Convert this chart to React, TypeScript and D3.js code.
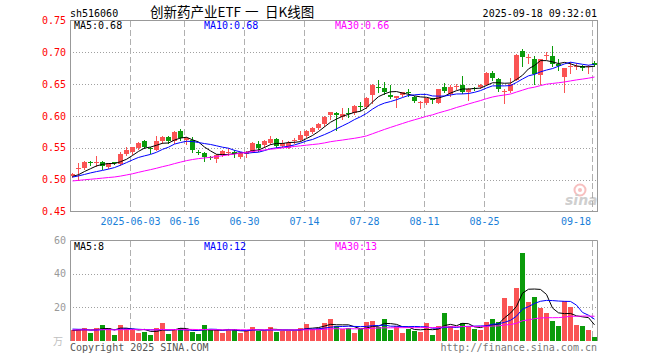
import React from "react";
import * as d3 from "d3";

// ---- data ----
const openP = [0.505,0.518,0.519,0.528,0.526,0.527,0.520,0.527,0.524,0.540,
0.543,0.550,0.561,0.550,0.547,0.560,0.567,0.561,0.577,0.563,
0.562,0.544,0.542,0.536,0.532,0.538,0.543,0.544,0.535,0.540,
0.544,0.556,0.555,0.557,0.564,0.553,0.550,0.561,0.563,0.569,
0.575,0.581,0.587,0.602,0.605,0.598,0.604,0.605,0.615,0.614,
0.633,0.646,0.644,0.633,0.629,0.633,0.637,0.630,0.621,0.620,
0.626,0.621,0.645,0.634,0.646,0.649,0.638,0.644,0.645,0.649,
0.668,0.658,0.638,0.639,0.657,0.702,0.691,0.689,0.665,0.695,
0.695,0.682,0.662,0.677,0.678,0.679,0.677,0.684];

const highP = [0.510,0.526,0.529,0.529,0.537,0.529,0.526,0.528,0.543,0.551,
0.552,0.559,0.562,0.552,0.569,0.569,0.568,0.576,0.579,0.567,
0.567,0.546,0.543,0.537,0.540,0.546,0.549,0.546,0.543,0.545,
0.559,0.561,0.562,0.569,0.566,0.563,0.560,0.565,0.576,0.578,
0.582,0.589,0.600,0.607,0.606,0.612,0.613,0.617,0.622,0.630,
0.651,0.657,0.653,0.649,0.632,0.638,0.643,0.632,0.623,0.629,
0.628,0.643,0.652,0.648,0.650,0.663,0.644,0.646,0.650,0.669,
0.670,0.659,0.642,0.660,0.697,0.706,0.697,0.694,0.690,0.701,
0.710,0.690,0.676,0.685,0.683,0.680,0.680,0.686];

const lowP = [0.504,0.499,0.516,0.523,0.522,0.516,0.518,0.524,0.523,0.538,
0.541,0.548,0.550,0.542,0.546,0.557,0.558,0.558,0.563,0.556,
0.543,0.540,0.530,0.533,0.527,0.537,0.539,0.536,0.534,0.535,
0.543,0.545,0.552,0.556,0.551,0.551,0.549,0.558,0.561,0.567,
0.573,0.579,0.585,0.596,0.578,0.596,0.598,0.603,0.610,0.612,
0.621,0.637,0.634,0.628,0.614,0.631,0.632,0.622,0.613,0.619,
0.620,0.620,0.637,0.632,0.643,0.636,0.625,0.641,0.644,0.648,
0.657,0.640,0.620,0.638,0.656,0.678,0.684,0.650,0.650,0.690,
0.678,0.672,0.637,0.667,0.674,0.672,0.668,0.679];

const closeP = [0.509,0.519,0.527,0.526,0.527,0.521,0.526,0.526,0.541,0.546,
0.551,0.558,0.552,0.549,0.560,0.567,0.560,0.575,0.565,0.566,
0.547,0.543,0.535,0.535,0.539,0.545,0.544,0.541,0.542,0.543,
0.558,0.549,0.561,0.564,0.553,0.557,0.557,0.562,0.570,0.577,
0.581,0.588,0.599,0.606,0.602,0.603,0.603,0.615,0.614,0.629,
0.649,0.645,0.637,0.630,0.631,0.637,0.636,0.624,0.622,0.628,
0.625,0.642,0.639,0.646,0.647,0.638,0.642,0.643,0.649,0.668,
0.659,0.642,0.639,0.651,0.696,0.692,0.692,0.666,0.689,0.696,
0.682,0.679,0.675,0.678,0.679,0.676,0.678,0.680];

// volume (万手)
const volume = [6.4,6.8,7.4,4.4,7.4,9.4,7.4,3.4,9.4,7.4,
6.8,4.4,5.4,3.4,7.4,10.8,4.0,6.6,7.8,6.8,
5.0,4.0,9.2,6.4,6.4,4.8,6.4,6.8,4.8,6.0,
8.0,6.0,6.0,8.0,5.4,6.0,6.0,6.0,7.8,10.0,
7.2,7.8,10.4,13.0,8.8,7.0,7.8,4.6,6.8,11.2,
12.0,8.2,13.0,6.4,8.8,4.8,7.2,5.8,5.4,10.4,
3.6,9.0,16.6,8.8,6.4,10.6,8.0,7.2,6.6,11.4,
13.0,11.4,25.6,20.8,31.6,52.6,23.2,26.2,19.6,16.6,
11.8,8.8,23.8,20.2,9.4,8.8,6.4,2.2];

// sessions before the visible window (only feed the moving averages)
const priorCloses = [0.492,0.498,0.503,0.500,0.494,0.497,0.501,0.499,0.493,0.495,
0.490,0.486,0.489,0.494,0.492,0.497,0.495,0.493,0.497,0.495,
0.500,0.504,0.502,0.506,0.503,0.505,0.502,0.504,0.505];
const priorVolumes = [6.0,7.2,5.4,6.8,5.0,6.2,7.6,5.8,6.4,5.6,
6.6,5.2,7.0,6.0,5.8,6.4,4.8,5.6,6.2,5.4,
8.0,7.4,9.2,7.0,6.8,5.8,6.2,5.0,6.6];

const tickIndex = [10, 19, 29, 39, 49, 59, 69, 87];
const tickLabels = ["2025-06-03", "06-16", "06-30", "07-14", "07-28", "08-11", "08-25", "09-18"];
const priceTicks = [0.45, 0.5, 0.55, 0.6, 0.65, 0.7, 0.75];
const volTicks = [20, 40, 60];
const priceLegend = ["MA5:0.68", "MA10:0.68", "MA30:0.66"];
const volLegend = ["MA5:8", "MA10:12", "MA30:13"];
const titleParts = ["创新药产业ETF", "一", "日K线图"];
const maPeriods = [5, 10, 30];

const MONO = "'DejaVu Sans Mono', 'Liberation Mono', monospace";
const CJK = "'Noto Sans CJK SC', 'Noto Sans', sans-serif";
const RED = "#fa5454";
const GREEN = "#0b9b0b";
const MA_COLORS = ["#000000", "#0000ff", "#ff00ff"];

function movingAvg(prior: number[], vals: number[], n: number): number[] {
  const all = prior.concat(vals);
  const off = prior.length;
  return vals.map((_, i) => {
    const end = i + off;
    return d3.mean(all.slice(end - n + 1, end + 1)) as number;
  });
}

export default function App() {
  const n = closeP.length;
  const L = 70, R = 597;
  const xs = d3.scaleLinear().domain([0, n - 1]).range([L, 592]);
  const ys = d3.scaleLinear().domain([0.45, 0.75]).range([211.5, 20.5]);
  const yv = d3.scaleLinear().domain([0, 60]).range([340.5, 240.5]);
  const idx = d3.range(n);

  const priceMA = maPeriods.map((p) => movingAvg(priorCloses, closeP, p));
  const volMA = maPeriods.map((p) => movingAvg(priorVolumes, volume, p));

  const pLine = (arr: number[]) =>
    d3.line<number>().x((i) => xs(i) + 2.5).y((i) => ys(arr[i]))(idx) as string;
  const vLine = (arr: number[]) =>
    d3.line<number>().x((i) => xs(i) + 2.5).y((i) => yv(arr[i]))(idx) as string;

  const up = (i: number) => closeP[i] >= openP[i];

  return (
    <svg
      width={660}
      height={360}
      style={{ position: "absolute", left: 0, top: 0, background: "#fff" }}
      xmlns="http://www.w3.org/2000/svg"
    >
      <rect x={0} y={0} width={660} height={360} fill="#fff" />
      {/* header */}
      <text x={70} y={16.5} fontFamily={MONO} fontSize={10} fill="#000">sh516060</text>
      {titleParts.map((s, k) => (
        <text key={"t" + k} x={[150, 245, 265][k]} y={16.5} fontFamily={CJK} fontSize={13.5} fill="#000">{s}</text>
      ))}
      <text x={597} y={16.5} fontFamily={MONO} fontSize={10} fill="#000" textAnchor="end">2025-09-18 09:32:01</text>

      {/* horizontal grid, price */}
      {priceTicks.slice(1, -1).map((t) => (
        <line key={"pg" + t} x1={L} x2={R} y1={Math.round(ys(t)) + 0.5} y2={Math.round(ys(t)) + 0.5}
          stroke="#a0a0a0" strokeDasharray="1,2" />
      ))}
      {/* horizontal grid, volume */}
      {volTicks.slice(0, -1).map((t) => (
        <line key={"vg" + t} x1={L} x2={R} y1={Math.round(yv(t)) + 0.5} y2={Math.round(yv(t)) + 0.5}
          stroke="#a0a0a0" strokeDasharray="1,2" />
      ))}
      {/* vertical dashed grid */}
      {tickIndex.map((ti) => (
        <g key={"vx" + ti}>
          <line x1={xs(ti) + 0.5} x2={xs(ti) + 0.5} y1={21} y2={211} stroke="#b0b0b0" strokeDasharray="6,3" />
          <line x1={xs(ti) + 0.5} x2={xs(ti) + 0.5} y1={241} y2={340} stroke="#b0b0b0" strokeDasharray="6,3" />
        </g>
      ))}

      {/* price axis labels */}
      {priceTicks.map((t) => (
        <text key={"pl" + t} x={66} y={ys(t)} dy="0.35em" textAnchor="end" fontFamily={MONO} fontSize={10} fill="#ff0000">
          {d3.format(".2f")(t)}
        </text>
      ))}
      {/* volume axis labels */}
      {volTicks.map((t) => (
        <text key={"vl" + t} x={66} y={yv(t)} dy="0.35em" textAnchor="end" fontFamily={MONO} fontSize={10} fill="#999">
          {t}
        </text>
      ))}
      <text x={63} y={345} textAnchor="end" fontFamily={CJK} fontSize={10} fill="#c0c0c0">万</text>

      {/* date labels */}
      {tickIndex.map((ti, k) => (
        <text key={"dl" + ti} x={k === tickIndex.length - 1 ? xs(ti) - 1 : xs(ti) + 0.5} y={225}
          textAnchor={k === tickIndex.length - 1 ? "end" : "middle"} fontFamily={MONO} fontSize={10} fill="#1a80d9">
          {tickLabels[k]}
        </text>
      ))}

      {/* watermark */}
      <g opacity={0.5}>
        <circle cx={580} cy={190} r={5.5} fill="none" stroke="#f08080" strokeWidth={2} />
        <circle cx={580} cy={190} r={2} fill="#f08080" />
        <text x={565} y={205} fontFamily="'DejaVu Sans', sans-serif" fontSize={14} fontWeight="bold" fontStyle="italic" fill="#a0a0a0">sina</text>
      </g>

      {/* candles */}
      {idx.map((i) => {
        const c = up(i) ? RED : GREEN;
        const x = xs(i);
        const top = Math.round(ys(Math.max(openP[i], closeP[i])));
        const bot = Math.round(ys(Math.min(openP[i], closeP[i])));
        const h = Math.max(1, bot - top);
        return (
          <g key={"c" + i}>
            <line x1={x + 2.5} x2={x + 2.5} y1={Math.round(ys(highP[i]))} y2={Math.round(ys(lowP[i])) + 1} stroke={c} strokeWidth={1} />
            <rect x={x} y={top} width={5} height={h} fill={c} />
          </g>
        );
      })}
      {/* price MAs */}
      {priceMA.map((arr, k) => (
        <path key={"pm" + k} d={pLine(arr)} fill="none" stroke={MA_COLORS[k]} strokeWidth={1} />
      ))}

      {/* volume bars */}
      {idx.map((i) => {
        const top = Math.round(yv(volume[i]));
        return (
          <rect key={"v" + i} x={xs(i)} y={top} width={5} height={341 - top} fill={up(i) ? RED : GREEN} />
        );
      })}
      {volMA.map((arr, k) => (
        <path key={"vm" + k} d={vLine(arr)} fill="none" stroke={MA_COLORS[k]} strokeWidth={1} />
      ))}

      {/* borders */}
      <rect x={70.5} y={20.5} width={527} height={191} fill="none" stroke="#999" />
      <line x1={70.5} x2={597.5} y1={240.5} y2={240.5} stroke="#999" />
      <line x1={70.5} x2={70.5} y1={240.5} y2={341} stroke="#999" />
      <line x1={597.5} x2={597.5} y1={240.5} y2={341} stroke="#999" />

      {/* legends */}
      {priceLegend.map((s, k) => (
        <text key={"pleg" + k} x={[74, 204, 335][k]} y={29} fontFamily={MONO} fontSize={10} fill={MA_COLORS[k]}>{s}</text>
      ))}
      {volLegend.map((s, k) => (
        <text key={"vleg" + k} x={[74, 204, 335][k]} y={249.5} fontFamily={MONO} fontSize={10} fill={MA_COLORS[k]}>{s}</text>
      ))}

      {/* footer */}
      <text x={70} y={350.5} fontFamily={MONO} fontSize={10} fill="#555">Copyright 2025 SINA.COM</text>
      <text x={597} y={350.5} textAnchor="end" fontFamily={MONO} fontSize={10} fill="#777">http://finance.sina.com.cn</text>
    </svg>
  );
}
